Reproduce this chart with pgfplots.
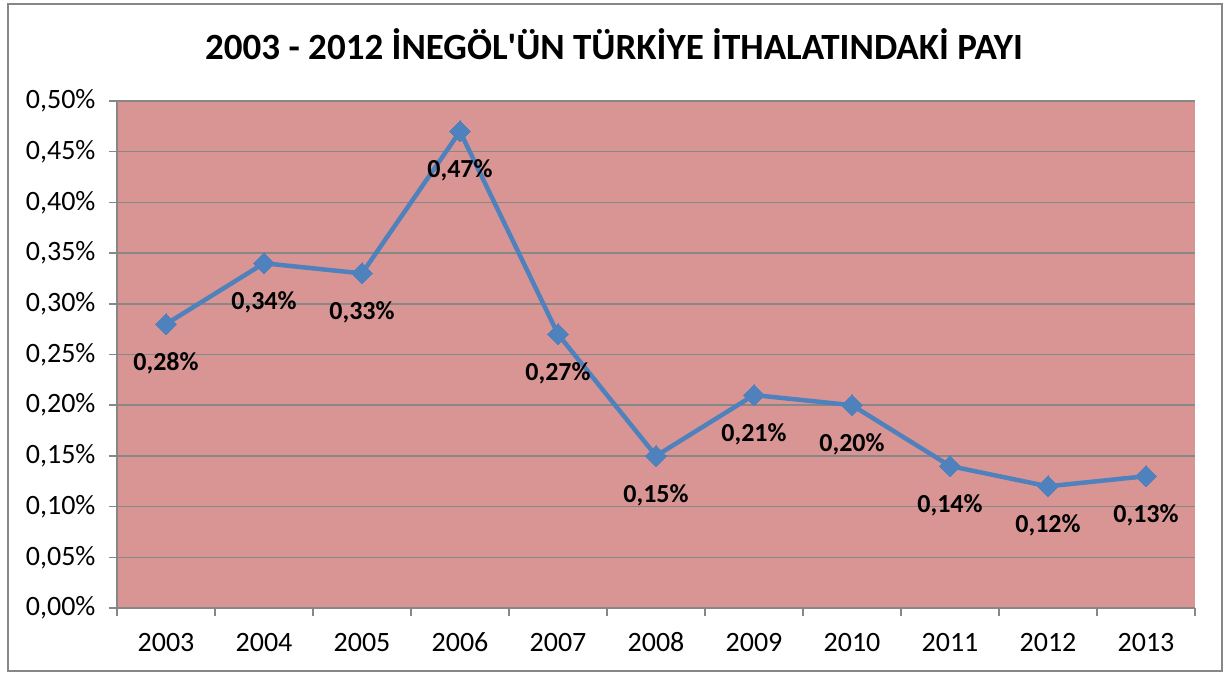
\documentclass[border=0pt]{standalone}
\usepackage{pgfplots}
\pgfplotsset{compat=1.18}
\usepackage{fontspec}
\setmainfont{Carlito}
\definecolor{plotbg}{HTML}{D99594}
\definecolor{linecol}{HTML}{4F81BD}
\definecolor{gridcol}{HTML}{878787}
\begin{document}
\begin{tikzpicture}
\path[use as bounding box] (0,0) rectangle (1226bp,675bp);
\draw[gridcol, line width=1.5bp] (8bp,4bp) rectangle (1222bp,671bp);
\node[font=\fontsize{37bp}{44bp}\selectfont\bfseries] at (614bp,631bp) {2003 - 2012 İNEGÖL\textquotesingle ÜN TÜRKİYE İTHALATINDAKİ PAYI};
\begin{axis}[
  at={(117bp,67bp)}, anchor=south west,
  scale only axis, width=1078bp, height=507bp,
  xmin=-0.5, xmax=10.5, ymin=0, ymax=0.5,
  axis lines*=left,
  axis line style={gridcol, line width=1.5bp},
  axis background/.style={fill=plotbg},
  xtick={0,1,2,3,4,5,6,7,8,9,10},
  xticklabels={2003,2004,2005,2006,2007,2008,2009,2010,2011,2012,2013},
  major x tick style={draw=none},
  minor xtick={-0.5,0.5,1.5,2.5,3.5,4.5,5.5,6.5,7.5,8.5,9.5,10.5},
  minor x tick style={gridcol, line width=1.5bp},
  minor tick length=8bp,
  ytick={0,0.05,0.1,0.15,0.2,0.25,0.3,0.35,0.4,0.45,0.5},
  yticklabels={{0,00\%},{0,05\%},{0,10\%},{0,15\%},{0,20\%},{0,25\%},{0,30\%},{0,35\%},{0,40\%},{0,45\%},{0,50\%}},
  major y tick style={gridcol, line width=1.5bp},
  major tick length=8bp,
  tick align=outside,
  ymajorgrids,
  grid style={gridcol, line width=1.5bp},
  /pgf/number format/assume math mode=true,
  ticklabel style={font=\fontsize{28bp}{33bp}\selectfont},
  xticklabel style={yshift=-13bp, text height=19bp, text depth=0bp},
  yticklabel style={xshift=-10bp},
  clip=false,
]
\addplot[linecol, line width=4.5bp, mark=square*, mark size=7.4bp,
  mark options={rotate=45, fill=linecol, draw=linecol, line width=0pt},
  nodes near coords, point meta=explicit symbolic,
  every node near coord/.append style={anchor=center, yshift=-39bp, text=black,
    font=\fontsize{26bp}{31bp}\selectfont\bfseries}]
table[meta=lab] {
x y lab
0 0.28 0,28\%
1 0.34 0,34\%
2 0.33 0,33\%
3 0.47 0,47\%
4 0.27 0,27\%
5 0.15 0,15\%
6 0.21 0,21\%
7 0.20 0,20\%
8 0.14 0,14\%
9 0.12 0,12\%
10 0.13 0,13\%
};
\end{axis}
\end{tikzpicture}
\end{document}
